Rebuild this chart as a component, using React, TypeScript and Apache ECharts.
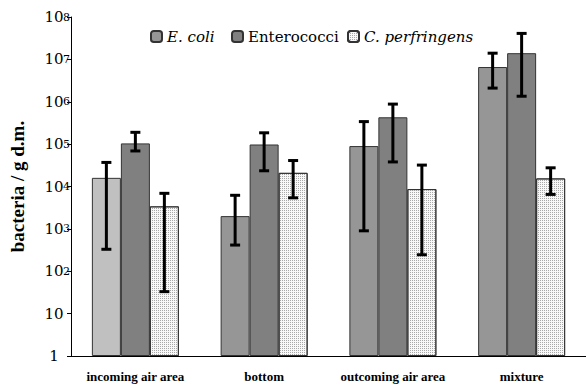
import React, { useEffect, useRef } from "react";
import * as echarts from "echarts";

const categories = ["incoming air area", "bottom", "outcoming air area", "mixture"];
const seriesNames = ["E. coli", "Enterococci", "C. perfringens"];
const ecoli = [16000, 2000, 90000, 6600000];
const ecoliLow = [330, 415, 900, 2100000];
const ecoliHigh = [37000, 6200, 340000, 14000000];
const entero = [104000, 98000, 430000, 14000000];
const enteroLow = [69000, 23500, 38000, 1350000];
const enteroHigh = [190000, 185000, 880000, 41000000];
const cperf = [3400, 21000, 8700, 15500];
const cperfLow = [33, 5400, 245, 6500];
const cperfHigh = [6900, 41000, 32000, 27600];

const BOLD_FONT = "Liberation Serif";
const FONT = "DejaVu Serif";
const BAR_W = 29;

function errSeries(low: number[], high: number[], k: number) {
  return {
    type: "custom",
    name: "err" + k,
    silent: true,
    z: 10,
    encode: { x: 0, y: [1, 2] },
    data: low.map((l, i) => [i, l, high[i]]),
    renderItem: (params: any, api: any) => {
      const ci = api.value(0);
      const lo = api.coord([ci, api.value(1)]);
      const hi = api.coord([ci, api.value(2)]);
      const x = lo[0] + (k - 1) * BAR_W;
      const st = { stroke: "#000", lineWidth: 3 };
      return {
        type: "group",
        children: [
          { type: "line", shape: { x1: x, y1: hi[1], x2: x, y2: lo[1] }, style: st },
          { type: "line", shape: { x1: x - 5, y1: hi[1], x2: x + 5, y2: hi[1] }, style: st },
          { type: "line", shape: { x1: x - 5, y1: lo[1], x2: x + 5, y2: lo[1] }, style: st },
        ],
      };
    },
  };
}

function legendFor(name: string, left: number, italic: boolean) {
  return {
    data: [name],
    left,
    top: 24,
    itemWidth: 11,
    itemHeight: 11,
    textStyle: {
      fontFamily: FONT,
      fontSize: 15,
      fontStyle: italic ? "italic" : "normal",
      color: "#000",
    },
  };
}

export default function App() {
  const ref = useRef<HTMLDivElement>(null);
  useEffect(() => {
    const chart = echarts.init(ref.current!, null, { renderer: "svg" });
    const barBase = {
      type: "bar",
      barWidth: BAR_W,
      barGap: "0%",
      itemStyle: { borderColor: "#333", borderWidth: 1 },
    };
    const logBase = {
      type: "log",
      logBase: 10,
      min: 1,
      max: 100000000,
      splitNumber: 8,
      splitLine: { show: false },
    };
    chart.setOption({
      animation: false,
      legend: [
        legendFor(seriesNames[0], 145, true),
        legendFor(seriesNames[1], 226, false),
        legendFor(seriesNames[2], 342, true),
      ],
      grid: { left: 70, top: 17, width: 520, height: 339 },
      xAxis: {
        type: "category",
        data: categories,
        axisLine: { lineStyle: { color: "#000", width: 1 } },
        axisTick: { length: 6, lineStyle: { color: "#000" } },
        axisLabel: {
          interval: 0,
          fontFamily: BOLD_FONT,
          fontWeight: "bold",
          fontSize: 13,
          color: "#000",
          margin: 14,
        },
      },
      yAxis: [
        {
          ...logBase,
          name: "bacteria / g d.m.",
          nameLocation: "middle",
          nameGap: 44,
          nameTextStyle: { fontFamily: BOLD_FONT, fontWeight: "bold", fontSize: 19, color: "#000" },
          axisLine: { show: true, lineStyle: { color: "#000", width: 1 } },
          axisTick: { show: true, length: 4, lineStyle: { color: "#000" } },
          axisLabel: {
            align: "center",
            margin: 17,
            color: "#000",
            fontFamily: FONT,
            fontSize: 15,
            padding: [0, 0, 4, 0],
            formatter: (v: number) => (Math.round(Math.log10(v)) === 0 ? "1" : "10"),
          },
        },
        {
          ...logBase,
          position: "left",
          axisLine: { show: false },
          axisTick: { show: false },
          axisLabel: {
            align: "left",
            margin: 8,
            color: "#000",
            fontFamily: FONT,
            fontSize: 11,
            padding: [0, 0, 15, 0],
            formatter: (v: number) => {
              const e = Math.round(Math.log10(v));
              return e >= 2 ? String(e) : "";
            },
          },
        },
      ],
      series: [
        {
          ...barBase,
          name: seriesNames[0],
          color: "#969696",
          data: ecoli.map((v, i) => (i === 0 ? { value: v, itemStyle: { color: "#c0c0c0" } } : v)),
        },
        { ...barBase, name: seriesNames[1], color: "#808080", data: entero },
        {
          ...barBase,
          name: seriesNames[2],
          color: "#f8f8f8",
          itemStyle: {
            color: "#f8f8f8",
            borderColor: "#333",
            borderWidth: 1,
            decal: {
              symbol: "rect",
              symbolSize: 1,
              color: "#a8a8a8",
              dashArrayX: [1, 1],
              dashArrayY: [1, 1],
              rotation: 0,
            },
          },
          data: cperf,
        },
        errSeries(ecoliLow, ecoliHigh, 0),
        errSeries(enteroLow, enteroHigh, 1),
        errSeries(cperfLow, cperfHigh, 2),
      ],
    });
    return () => chart.dispose();
  }, []);
  return (
    <div
      ref={ref}
      style={{ position: "absolute", left: 0, top: 0, width: 586, height: 385 }}
    />
  );
}
